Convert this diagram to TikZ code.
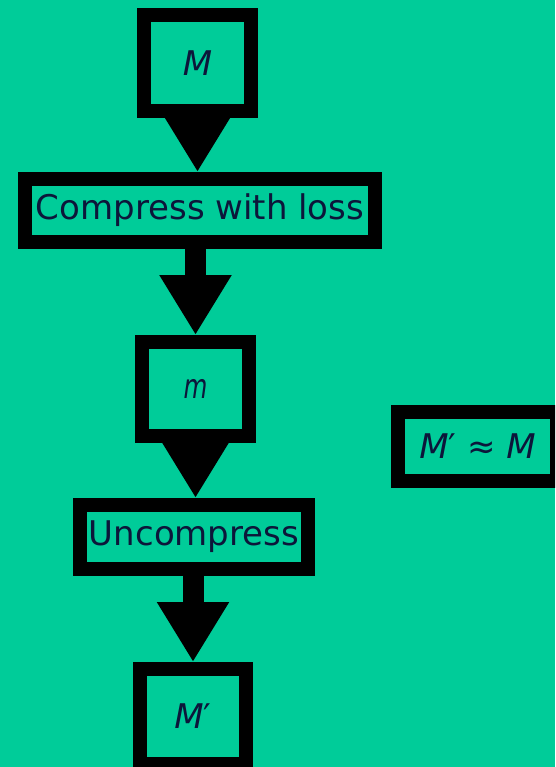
\documentclass[tikz,border=0pt]{standalone}
\usepackage{fontspec}
\usepackage{graphicx}
\setmainfont{DejaVu Sans}
\usetikzlibrary{arrows.meta}
\definecolor{bg}{RGB}{0,204,153}
\definecolor{ink}{RGB}{12,22,58}
\tikzset{
  box/.style={draw=black, line width=14pt, inner sep=0pt, text=ink,
    font=\fontsize{34}{40}\selectfont},
  flow/.style={line width=21pt, -{Triangle[length=60pt,width=68pt]}}
}
\begin{document}
\begin{tikzpicture}[x=1pt,y=-1pt]
\clip (0,0) rectangle (555,767);
\fill[bg] (0,0) rectangle (555,767);
\node[box, minimum width=107pt, minimum height=96pt] (M) at (197.5,63) {\textit{M}};
\node[box, minimum width=350pt, minimum height=63pt] (C) at (200,210.5) {Compress with loss};
\node[box, minimum width=107pt, minimum height=94pt] (m) at (195.5,389) {\scalebox{0.72}[1]{\textit{m}}};
\node[box, minimum width=228pt, minimum height=64pt] (U) at (194,537) {Uncompress};
\node[box, minimum width=106pt, minimum height=95pt] (Mp) at (193,716.5) {\textit{M}′};
\node[box, minimum width=159pt, minimum height=69pt] (A) at (477.5,446.5) {\textit{M}′ ≈ \textit{M}};
\draw[flow] (M.south) -- (M.south |- C.north);
\draw[flow] (C.south -| m.north) -- (m.north);
\draw[flow] (m.south) -- (m.south |- U.north);
\draw[flow] (U.south -| Mp.north) -- (Mp.north);
\end{tikzpicture}
\end{document}
